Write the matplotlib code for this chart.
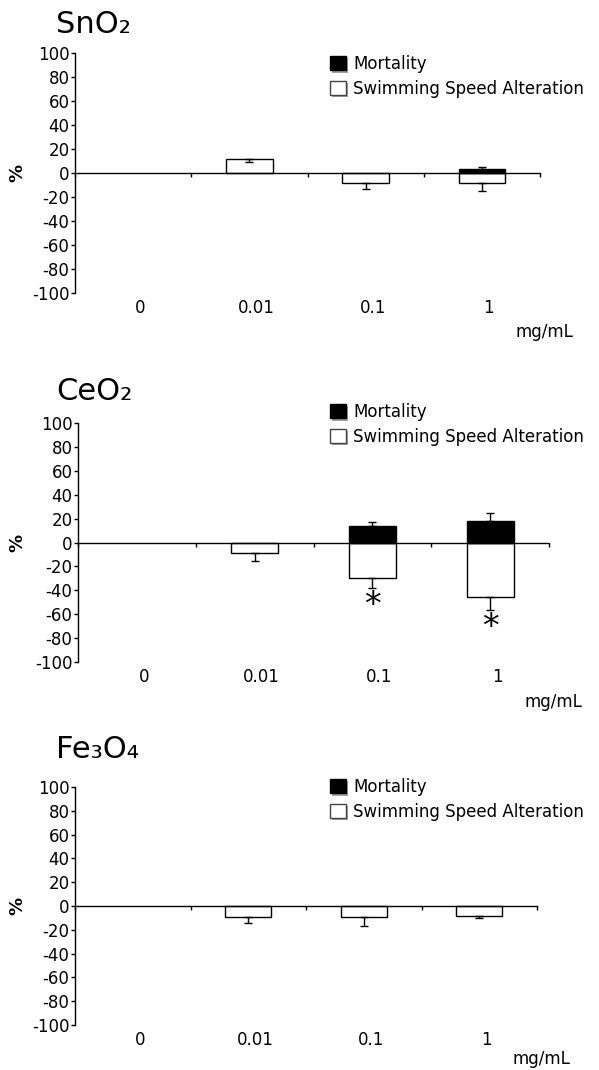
import matplotlib
matplotlib.use('Agg')
import matplotlib.pyplot as plt
import matplotlib.patheffects as pe
from matplotlib.patches import Patch
import numpy as np

plt.rcParams['axes.unicode_minus'] = False

# concentrations (mg/mL)
conc_labels = ['0', '0.01', '0.1', '1']

# values in %
sno2_mort = [0, 0, 0, 3]
sno2_mort_err = [0, 0, 0, 2]
sno2_ssa = [0, 12, -8, -8]
sno2_ssa_err = [0, 3, 5, 7]
sno2_signif = [False, False, False, False]

ceo2_mort = [0, 0, 14, 18]
ceo2_mort_err = [0, 0, 3.5, 6.5]
ceo2_ssa = [0, -9, -30, -46]
ceo2_ssa_err = [0, 6.5, 8, 10.5]
ceo2_signif = [False, False, True, True]

fe3o4_mort = [0, 0, 0, 0]
fe3o4_mort_err = [0, 0, 0, 0]
fe3o4_ssa = [0, -9, -9, -8]
fe3o4_ssa_err = [0, 5.5, 8, 2]
fe3o4_signif = [False, False, False, False]

panels = [
    ('SnO₂', sno2_mort, sno2_mort_err, sno2_ssa, sno2_ssa_err, sno2_signif),
    ('CeO₂', ceo2_mort, ceo2_mort_err, ceo2_ssa, ceo2_ssa_err, ceo2_signif),
    ('Fe₃O₄', fe3o4_mort, fe3o4_mort_err, fe3o4_ssa, fe3o4_ssa_err, fe3o4_signif),
]

# layout in pixels: axes (left, top, right, bottom), title baseline, legend top, unit label y
W, H = 599, 1070
axes_px = [(75, 53, 540, 293), (78, 423, 549, 662), (75, 787, 537, 1025)]
title_y = [33, 400, 758]
legend_top = [55, 403, 778]
unit_y = [332, 702, 1059]

fig = plt.figure(figsize=(W / 100, H / 100), dpi=100)

shadow = [pe.SimplePatchShadow(offset=(1.5, -1.5), shadow_rgbFace='#888888', alpha=0.8), pe.Normal()]
handles = [Patch(facecolor='black', edgecolor='black', path_effects=shadow),
           Patch(facecolor='white', edgecolor='#444444', path_effects=shadow)]
labels = ['Mortality', 'Swimming Speed Alteration']

for idx, (name, mort, mort_err, ssa, ssa_err, signif) in enumerate(panels):
    left, top, right, bottom = axes_px[idx]
    ax = fig.add_axes([left / W, 1 - bottom / H, (right - left) / W, (bottom - top) / H])

    x = np.arange(len(conc_labels)) + 0.5
    mort = np.array(mort, dtype=float)
    mort_err = np.array(mort_err, dtype=float)
    ssa = np.array(ssa, dtype=float)
    ssa_err = np.array(ssa_err, dtype=float)

    m = ssa != 0
    ax.bar(x[m], ssa[m], width=0.4, color='white', edgecolor='black', linewidth=1, zorder=2)
    m = mort != 0
    ax.bar(x[m], mort[m], width=0.4, color='black', edgecolor='black', linewidth=1, zorder=3)

    # mortality: plus error bars, speed alteration: minus error bars
    m = mort_err > 0
    if m.any():
        ax.errorbar(x[m], mort[m], yerr=[np.zeros(m.sum()), mort_err[m]], fmt='none',
                    ecolor='black', elinewidth=1, capsize=3, capthick=1, zorder=4)
    m = ssa_err > 0
    if m.any():
        ax.errorbar(x[m], ssa[m], yerr=[ssa_err[m], np.zeros(m.sum())], fmt='none',
                    ecolor='black', elinewidth=1, capsize=3, capthick=1, zorder=4)

    for i, s in enumerate(signif):
        if s:
            ax.text(x[i], ssa[i] - ssa_err[i] - 15, '*', ha='center', va='center', fontsize=24)

    ax.set_xlim(0, len(conc_labels))
    ax.set_ylim(-100, 100)
    ax.set_yticks(np.arange(-100, 101, 20))
    ax.tick_params(axis='y', direction='out', length=3, width=1, labelsize=12, pad=1)
    ax.set_xticks(np.arange(len(conc_labels) + 1))
    ax.tick_params(axis='x', direction='out', length=3, width=1, labelbottom=False)
    ax.spines['top'].set_visible(False)
    ax.spines['right'].set_visible(False)
    ax.spines['bottom'].set_position(('data', 0))
    ax.spines['left'].set_linewidth(1)
    ax.spines['bottom'].set_linewidth(1)
    ax.patch.set_alpha(0)

    for i, lab in enumerate(conc_labels):
        ax.annotate(lab, (x[i] + 0.06, -100), xytext=(0, -4), textcoords='offset points',
                    ha='center', va='top', fontsize=12)
    fig.text((right + 33) / W, 1 - unit_y[idx] / H, 'mg/mL', ha='right', va='center', fontsize=12)

    ax.set_ylabel('%', fontweight='bold', fontsize=13)
    ax.yaxis.set_label_coords((26 - left) / (right - left), 0.5)

    fig.text(56 / W, 1 - title_y[idx] / H, name, fontsize=22, ha='left', va='baseline')

    ax.legend(handles, labels, loc='upper left', bbox_to_anchor=(330 / W, 1 - legend_top[idx] / H),
              bbox_transform=fig.transFigure, frameon=False, fontsize=12, borderpad=0,
              borderaxespad=0, handlelength=0.95, handleheight=0.95, handletextpad=0.45,
              labelspacing=0.4)

fig.savefig('out.png', dpi=100)
